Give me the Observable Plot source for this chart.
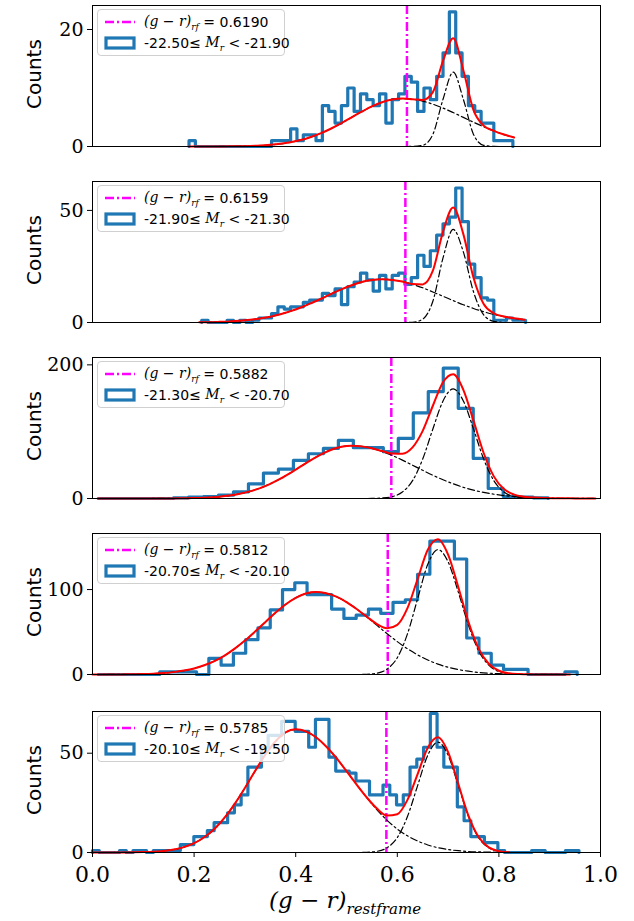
<!DOCTYPE html>
<html>
<head>
<meta charset="utf-8">
<script src="https://cdn.jsdelivr.net/npm/d3@7"></script>
<script src="https://cdn.jsdelivr.net/npm/@observablehq/plot@0.6"></script>
<style>
  body { margin: 0; background: #fff; }
  #chart { width: 634px; position: relative; }
  .panel { position: relative; }
  .panel svg { display: block; }
  .ylab { position: absolute; left: 22px; font: 20px "DejaVu Sans", sans-serif; transform: rotate(-90deg); transform-origin: left top; }
  .legend { position: absolute; left: 97px; top: 9px; width: 188px; height: 47px; border: 1px solid #d0d0d0; border-radius: 4px;
            background: rgba(255,255,255,0.8); font: 14px "DejaVu Sans", sans-serif; box-sizing: border-box; }
  .legend .row { position: absolute; left: 6px; height: 20px; display: flex; align-items: center; white-space: nowrap; }
  .legend i { font-family: "DejaVu Serif", serif; }
  .xlab { position: absolute; top: 887px; left: 0; width: 634px; padding-left: 56px; box-sizing: border-box; text-align: center; font: italic 23px "DejaVu Serif", serif; }
</style>
</head>
<body>
<div id="chart"></div>
<script>
// bin labels
const thresholds = [0.6190, 0.6159, 0.5882, 0.5812, 0.5785]
const magRanges = ["-22.50", "-21.90", "-21.30", "-20.70", "-20.10", "-19.50"]
const yTicks = [[0, 20], [0, 50], [0, 200], [0, 100], [0, 50]]
const yMax = [24.1, 62.9, 211, 166, 71]

// histograms: first edge, bin width, counts
const histStart = [0.19, 0.215, 0.012, 0.0115, 0.0]
const histWidth = [0.0125, 0.0125, 0.0295, 0.02417, 0.0133]
const counts1 = [1,0,0,0,0,0,0,0,0,0,0,0,0,1,1,1,3,1,2,2,1,7,6,4,7,10,6,9,8,7,9,4,8,9,12,11,6,10,8,12,16,23,16,12,7,6,4,4,1,1,1]
const counts2 = [1,0,0,0,1,0,1,0,1,2,2,4,7,6,7,7,9,10,10,13,12,15,8,16,18,22,19,14,21,15,21,22,17,20,30,25,32,39,44,47,60,45,26,20,11,10,1,1,2,1,1]
const counts3 = [0,0,0,0,0,1,2,3,5,10,22,38,44,57,67,75,87,76,76,70,90,128,160,195,135,60,15,3,2,1]
const counts4 = [0,0,0,0,0,3,3,3,0,19,11,25,41,55,76,100,108,94,94,77,66,70,77,72,85,88,118,157,157,136,43,25,11,6,6,0,0,0,3]
const counts5 = [1,0,0,0,1,0,1,1,0,1,1,1,1,4,4,8,8,11,15,15,20,24,29,43,43,53,59,59,66,66,61,61,53,67,67,48,41,41,40,36,36,29,29,34,29,24,29,43,47,53,70,53,43,43,23,16,8,8,5,5,1,0,0,0,0,1,1,0,0,0,1,1]

// fitted components, sampled every 0.02 from curveStart
const curveStart = [0.19, 0.21, 0.01, 0.0, 0.0]
const blue1 = [0,0,0,0.01,0.03,0.05,0.09,0.16,0.28,0.46,0.73,1.1,1.62,2.28,3.08,3.99,4.98,5.95,6.85,7.57,8.04,8.2,8.08,7.76,7.23,6.57,5.8,4.98,4.15,3.37,2.67,2.04,1.53]
const red1 = [0,0,0,0,0,0,0,0,0,0,0,0,0,0,0,0,0,0,0,0,0,0,0.01,0.2,2.07,8.07,12.7,8.07,2.07,0.2,0.01,0,0]
const blue2 = [0.1,0.15,0.29,0.46,0.75,1.18,1.8,2.6,3.69,5.06,6.7,8.59,10.6,12.8,14.8,16.6,18.1,19.0,19.3,19.0,18.3,17.0,15.5,13.6,11.7,9.77,7.93,6.27,4.81,3.59,2.61,1.85,1.27]
const red2 = [0,0,0,0,0,0,0,0,0,0,0,0,0,0,0,0,0,0,0,0,0,0.12,1.5,9.5,28.8,41.5,31.5,13.7,3.44,0.5,0.04,0,0]
const blue3 = [0,0,0,0,0.01,0.03,0.06,0.12,0.24,0.47,0.88,1.56,2.68,4.42,7.0,10.7,15.6,22.0,29.6,38.5,48.0,57.4,66.0,72.9,77.4,79,78.0,75.1,70.4,64.4,57.4,49.8,42.2,34.8,28.0,22.0,16.7,12.5,9.1,6.4,4.4,3.0,2.0,1.3,0.8,0.5,0.3,0.16,0.08,0.05]
const red3 = [0,0,0,0,0,0,0,0,0,0,0,0,0,0,0,0,0,0,0,0,0,0,0,0,0,0,0,0.1,0.7,2.8,9.7,26.7,59,104,146,164,146,104,59,26.7,9.7,2.8,0.7,0.1,0,0,0,0,0,0]
const blue4 = [0.01,0.03,0.07,0.14,0.27,0.51,0.93,1.65,2.8,4.6,7.1,10.9,15.8,22.3,30.4,39.9,50.5,61.6,72.6,82.4,90.2,95.3,97,95.6,91.6,85.3,77.1,67.7,57.8,48.0,38.7,30.3,23.1,17.1,12.2,8.5,5.8,3.9,2.4,1.55,0.93,0.54,0.31,0.17,0.1,0.05,0.03,0.02]
const red4 = [0,0,0,0,0,0,0,0,0,0,0,0,0,0,0,0,0,0,0,0,0,0,0,0,0,0,0,0.3,1.6,6.5,19.8,47.8,89.2,129.7,147,132.6,97.2,58.1,28.1,11.1,3.5,0.9,0.2,0,0,0,0,0]
const blue5 = [0,0,0.01,0.04,0.09,0.19,0.39,0.81,1.5,2.7,4.7,7.7,11.8,17.5,24.5,32.5,41.0,49.2,55.9,60.5,62,61.0,58.0,53.4,47.6,41.0,34.2,27.6,21.5,16.2,11.8,8.4,5.8,3.8,2.4,1.5,0.9,0.5,0.3,0.2,0.1,0]
const red5 = [0,0,0,0,0,0,0,0,0,0,0,0,0,0,0,0,0,0,0,0,0,0,0,0,0,0,0,0.1,0.6,2.4,7.5,18.1,33.7,49.0,55.6,49.0,33.7,18.1,7.5,2.4,0.6,0.1]

const allCounts = [counts1, counts2, counts3, counts4, counts5]
const compA = [blue1, blue2, blue3, blue4, blue5]
const compB = [red1, red2, red3, red4, red5]

const chart = d3.select('#chart')

for (let i = 0; i < 5; i++) {
  const last = i === 4
  const c = allCounts[i]
  // outline of the step histogram
  const hist = c.map((v, k) => ({x: histStart[i] + k * histWidth[i], y: v}))
  hist.unshift({x: histStart[i], y: 0})
  hist.push({x: histStart[i] + c.length * histWidth[i], y: 0})
  const fit = compA[i].map((a, k) => ({x: curveStart[i] + 0.02 * k, a: a, b: compB[i][k], s: a + compB[i][k]}))

  const p = Plot.plot({
    width: 634,
    height: last ? 217 : 176,
    marginLeft: 92,
    marginRight: 34,
    marginTop: last ? 7 : 5,
    marginBottom: last ? 69 : 30,
    style: {fontFamily: "'DejaVu Serif', serif", fontSize: "19px", color: "#000"},
    x: {domain: [0, 1]},
    y: {domain: [0, yMax[i]]},
    marks: [
      Plot.line(hist, {x: 'x', y: 'y', curve: 'step-after', stroke: '#1f77b4', strokeWidth: 3.2}),
      Plot.ruleX([thresholds[i]], {stroke: 'magenta', strokeWidth: 2.5, strokeDasharray: '9,3,2,3'}),
      Plot.line(fit, {x: 'x', y: 'a', curve: 'monotone-x', stroke: 'black', strokeWidth: 1.2, strokeDasharray: '7,3,2,3'}),
      Plot.line(fit, {x: 'x', y: 'b', curve: 'monotone-x', stroke: 'black', strokeWidth: 1.2, strokeDasharray: '7,3,2,3'}),
      Plot.line(fit, {x: 'x', y: 's', curve: 'monotone-x', stroke: 'red', strokeWidth: 2}),
      Plot.frame({stroke: 'black', strokeWidth: 1}),
      Plot.axisY({ticks: yTicks[i], tickSize: 5, tickPadding: 4, label: null}),
      last ? Plot.axisX({ticks: [0, 0.2, 0.4, 0.6, 0.8, 1.0], tickFormat: d3.format('.1f'), tickSize: 5, tickPadding: 9, fontSize: 22, label: null})
           : Plot.axisX({ticks: [], label: null})
    ]
  })
  const div = chart.append('div').attr('class', 'panel')
  div.append(() => p)
  const top = (last ? 7 : 5) + 70 + 34
  div.append('div').attr('class', 'ylab').style('top', top + 'px').text('Counts')
  const lg = div.append('div').attr('class', 'legend').style('top', (last ? 11 : 9) + 'px')
  lg.append('div').attr('class', 'row').style('top', '2px')
    .html(`<svg width="32" height="10" style="margin-right:8px"><line x1="1" x2="31" y1="5" y2="5" stroke="magenta" stroke-width="2.5" stroke-dasharray="9,3,2,3"/></svg><i>(g − r)<sub style="font-size:9px">rf</sub></i>&nbsp;= ${thresholds[i].toFixed(4)}`)
  lg.append('div').attr('class', 'row').style('top', '23px')
    .html(`<svg width="32" height="14" style="margin-right:8px"><rect x="2" y="2" width="28" height="10" fill="none" stroke="#1f77b4" stroke-width="3.2"/></svg>${magRanges[i]}≤ <i>&nbsp;M<sub style="font-size:9px">r</sub></i>&nbsp;&lt; ${magRanges[i + 1]}`)
}
chart.append('div').attr('class', 'xlab').html('(g − r)<sub style="font-size:15px">restframe</sub>')
</script>
</body>
</html>
